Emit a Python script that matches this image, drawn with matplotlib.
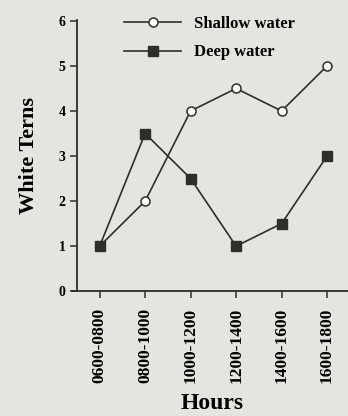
import matplotlib
matplotlib.use("Agg")
import matplotlib.pyplot as plt

hours = ["0600-0800", "0800-1000", "1000-1200", "1200-1400", "1400-1600", "1600-1800"]
shallow = [1, 2, 4, 4.5, 4, 5]
deep = [1, 3.5, 2.5, 1, 1.5, 3]
yticks = [0, 1, 2, 3, 4, 5, 6]

bg = "#e6e4e0"
ink = "#2e2e2e"
plt.rcParams["font.family"] = ["Liberation Serif", "DejaVu Serif"]
plt.rcParams["font.weight"] = "bold"

fig = plt.figure(figsize=(3.48, 4.16), dpi=100, facecolor=bg)
ax = fig.add_axes([0.221, 0.300, 0.779, 0.652])
ax.set_facecolor(bg)

x = list(range(len(hours)))
ax.plot(x, shallow, color=ink, lw=1.2, marker="o", ms=6.5, mfc="white", mec=ink, mew=1.1,
        label="Shallow water", clip_on=False, zorder=3)
ax.plot(x, deep, color=ink, lw=1.2, marker="s", ms=6.5, mfc=ink, mec=ink,
        label="Deep water", clip_on=False, zorder=3)

ax.set_xlim(-0.5, 5.46)
ax.set_ylim(0, 6.02)
ax.set_yticks(yticks)
ax.set_xticks(x)
ax.set_xticklabels(hours, rotation=90, fontsize=12.5, fontweight="bold")
ax.tick_params(axis="y", direction="out", length=5, width=1.1, color=ink, labelsize=10, pad=3)
ax.tick_params(axis="x", direction="out", length=5, width=1.1, color=ink, pad=7)
for lab in ax.get_yticklabels():
    lab.set_fontweight("bold")

for s in ["top", "right"]:
    ax.spines[s].set_visible(False)
for s in ["left", "bottom"]:
    ax.spines[s].set_color(ink)
    ax.spines[s].set_linewidth(1.3)
ax.spines["bottom"].set_bounds(-0.6, 5.46)

ax.set_ylabel("White Terns", fontsize=16, fontweight="bold", labelpad=14)
ax.set_xlabel("Hours", fontsize=17, fontweight="bold", labelpad=7)

ax.legend(loc="upper left", bbox_to_anchor=(0.12, 1.07), frameon=False, handlelength=3.4,
          prop={"weight": "bold", "size": 12}, labelspacing=0.75, handletextpad=0.8)

fig.savefig("out.png", dpi=100, facecolor=bg)
